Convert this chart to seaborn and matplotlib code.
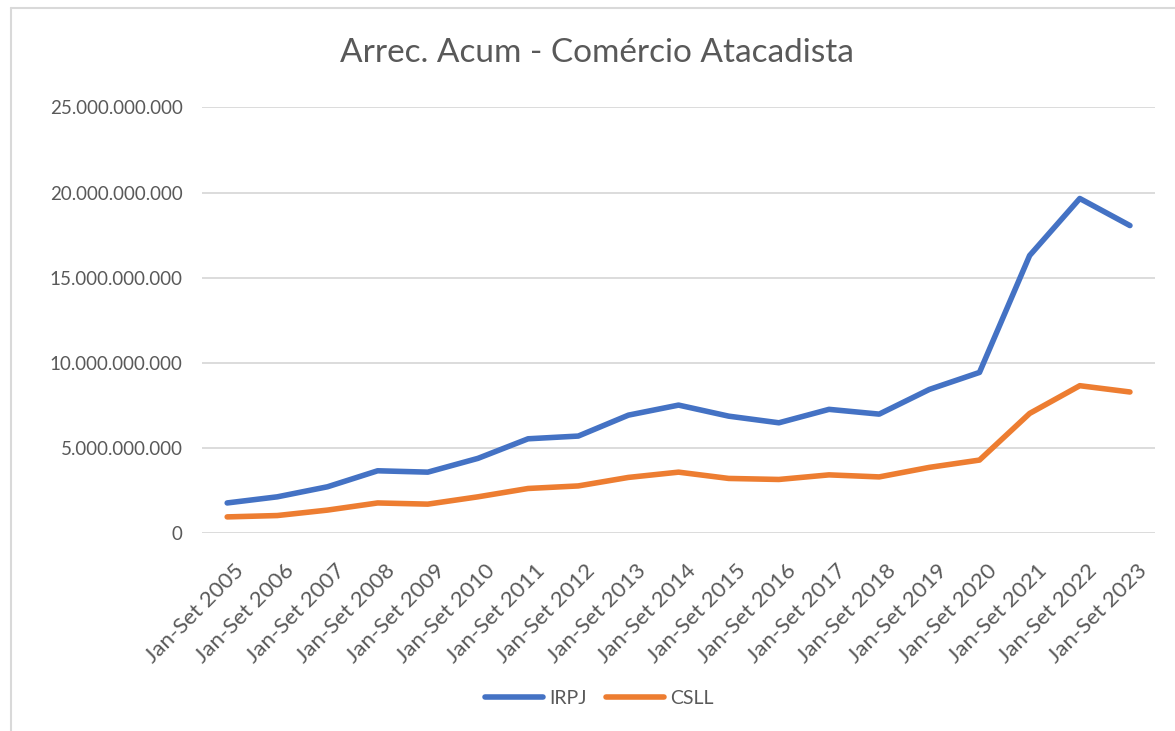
import numpy as np
import pandas as pd
import seaborn as sns
import matplotlib.pyplot as plt
import matplotlib.transforms as mtransforms
from matplotlib.ticker import FuncFormatter
from matplotlib.lines import Line2D

# data (values in R$ billions)
periods = [f"Jan-Set {y}" for y in range(2005, 2024)]
irpj = [1.76, 2.12, 2.71, 3.65, 3.57, 4.38, 5.53, 5.69, 6.92, 7.51,
        6.86, 6.47, 7.26, 6.98, 8.43, 9.43, 16.3, 19.65, 18.06]
csll = [0.94, 1.02, 1.34, 1.76, 1.69, 2.12, 2.61, 2.76, 3.26, 3.57,
        3.20, 3.14, 3.41, 3.29, 3.85, 4.28, 7.02, 8.65, 8.28]

df = pd.DataFrame({"periodo": periods * 2,
                   "valor": np.array(irpj + csll) * 1e9,
                   "tributo": ["IRPJ"] * len(periods) + ["CSLL"] * len(periods)})

sns.set_style("white")
plt.rcParams['font.family'] = ['Lato', 'DejaVu Sans']
grey = "#595959"

fig = plt.figure(figsize=(11.75, 7.31), dpi=100)
ax = fig.add_axes([0.172, 0.271, 0.811, 0.582])

sns.lineplot(data=df, x="periodo", y="valor", hue="tributo", sort=False,
             palette={"IRPJ": "#4472C4", "CSLL": "#ED7D31"},
             linewidth=4, legend=False, ax=ax)

ax.set_xlim(-0.5, len(periods) - 0.5)
ax.set_ylim(0, 25e9)
ax.set_yticks(np.arange(0, 25e9 + 1, 5e9))
ax.yaxis.set_major_formatter(FuncFormatter(lambda v, p: f"{v:,.0f}".replace(",", ".")))
ax.grid(axis="y", color="#d9d9d9", linewidth=1.3)
ax.grid(axis="x", visible=False)
for s in ax.spines.values():
    s.set_visible(False)
ax.tick_params(axis="both", length=0, colors=grey, labelsize=13.5)
ax.tick_params(axis="y", pad=14)
ax.tick_params(axis="x", labelsize=16, pad=20)
shift = mtransforms.ScaledTranslation(7 / 100, 0, fig.dpi_scale_trans)
for lab in ax.get_xticklabels():
    lab.set_rotation(45)
    lab.set_ha("right")
    lab.set_rotation_mode("anchor")
    lab.set_transform(lab.get_transform() + shift)
ax.set_xlabel("")
ax.set_ylabel("")

fig.text(0.508, 0.927, "Arrec. Acum - Comércio Atacadista", ha="center", va="center",
         fontsize=24, color=grey)

handles = [Line2D([], [], color="#4472C4", linewidth=4),
           Line2D([], [], color="#ED7D31", linewidth=4)]
fig.legend(handles, ["IRPJ", "CSLL"], loc="center", bbox_to_anchor=(0.51, 0.045),
           ncol=2, frameon=False, fontsize=14, labelcolor=grey,
           handlelength=3.0, handletextpad=0.3, columnspacing=1.0)

# chart area border
fig.add_artist(Line2D([0.0094, 0.0094], [0, 0.989], color="#d9d9d9", linewidth=1.5))
fig.add_artist(Line2D([0.0094, 1], [0.989, 0.989], color="#d9d9d9", linewidth=1.5))

fig.savefig("out.png", dpi=100)
